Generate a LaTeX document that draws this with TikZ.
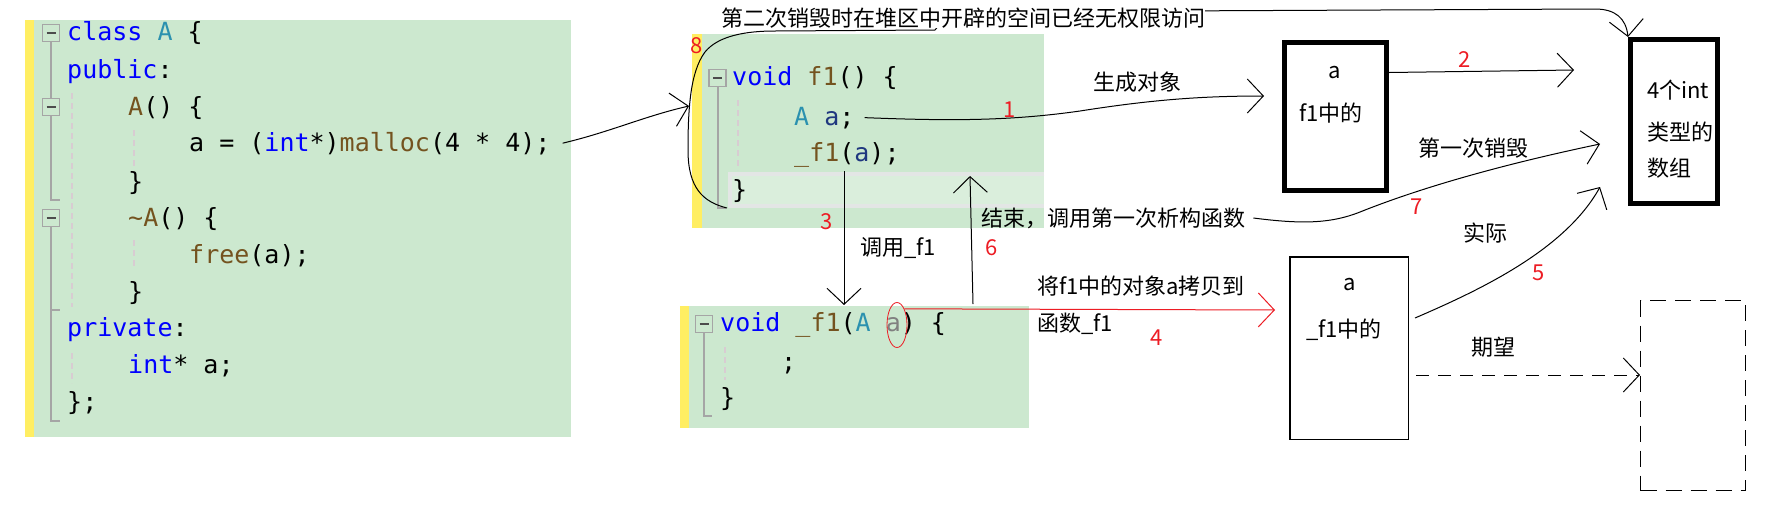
\documentclass[tikz,border=0pt]{standalone}
\usepackage{fontspec}
\usetikzlibrary{arrows.meta, shapes.geometric, positioning}
\newfontfamily\cjkfont{Noto Sans CJK SC}
\newfontfamily\codefont{DejaVu Sans Mono}
\definecolor{codebg}{HTML}{CCE8CF}
\definecolor{hlbg}{HTML}{DAEEDC}
\definecolor{hlborder}{HTML}{E3E6E5}
\definecolor{marginy}{HTML}{FFEE62}
\definecolor{kwblue}{HTML}{0000FF}
\definecolor{tyteal}{HTML}{2B91AF}
\definecolor{fnbrown}{HTML}{74531F}
\definecolor{varblue}{HTML}{1F377F}
\definecolor{pargray}{HTML}{808080}
\definecolor{foldgray}{HTML}{A5A5A5}
\definecolor{guidec}{HTML}{D8CCD2}
\definecolor{numred}{HTML}{ED1C24}
\newcommand{\ckw}[1]{\textcolor{kwblue}{#1}}
\newcommand{\cty}[1]{\textcolor{tyteal}{#1}}
\newcommand{\cfn}[1]{\textcolor{fnbrown}{#1}}
\newcommand{\cvar}[1]{\textcolor{varblue}{#1}}
\newcommand{\cpar}[1]{\textcolor{pargray}{#1}}
\tikzset{
   codeline/.style={
     anchor=base west, inner sep=0pt,
     font=\codefont\fontsize{25}{30}\selectfont
   },
   foldbox/.style={
     draw=foldgray, line width=1.5pt, minimum size=17pt, inner sep=0pt,
     path picture={\draw[black!70, line width=2pt]
       ([xshift=-4.5pt]path picture bounding box.center) --
       ([xshift=4.5pt]path picture bounding box.center);}
   },
   foldline/.style={draw=foldgray, line width=2pt},
   guide/.style={draw=guidec, line width=1.5pt, dash pattern=on 6pt off 4pt},
   cjktext/.style={font=\cjkfont\fontsize{22}{26}\selectfont, inner sep=0pt},
   num/.style={cjktext, text=numred},
   thickbox/.style={draw, line width=5pt, inner sep=0pt},
   thinbox/.style={draw, line width=1.5pt, inner sep=0pt},
   hand/.style={line width=1pt, -{Straight Barb[length=16pt,width=34pt]}},
   handdash/.style={hand, dash pattern=on 13pt off 9pt}
}
\begin{document}
\begin{tikzpicture}[x=1pt, y=-1pt]
            \path[fill=white, use as bounding box] (0,0) rectangle (1770,520);
            % code panels
            \fill[codebg] (25,20) rectangle (571,437);
            \fill[marginy] (25,20) rectangle (34,437);
            \fill[codebg] (692,34) rectangle (1044,228);
            \fill[marginy] (692,34) rectangle (702,228);
            \draw[hlborder, line width=3.5pt, fill=hlbg] (1044,174) -- (730,174) -- (730,206) -- (1044,206);
            \fill[codebg] (680,306) rectangle (1029,428);
            \fill[marginy] (680,306) rectangle (689,428);

            \node[foldbox] (lf1) at (51,33) {};
            \node[foldbox] (lf2) at (51,107) {};
            \node[foldbox] (lf3) at (51,218) {};
            \draw[foldline] (lf1.south) -- (lf2.north);
            \draw[foldline] (lf2.south) -- (51,200) -- (60,200);
            \draw[foldline] (lf3.south) -- (51,421) -- (60,421);
            \draw[foldline] (51,310) -- (60,310);
            \draw[guide] (72,93) -- (72,307);
            \draw[guide] (72,353) -- (72,383);
            \draw[guide] (134,130) -- (134,167);
            \draw[guide] (134,240) -- (134,267);

            \node[codeline] (l1) at (67,40) {\ckw{class} \cty{A} \{};
            \node[codeline] (l2) at (67,78) {\ckw{public}:};
            \node[codeline] (l3) at (128,115) {\cfn{A}() \{};
            \node[codeline] (l4) at (189,151) {a = (\ckw{int}*)\cfn{malloc}(4 * 4);};
            \node[codeline] (l5) at (128,190) {\}};
            \node[codeline] (l6) at (128,226) {\cfn{\textasciitilde A}() \{};
            \node[codeline] (l7) at (189,263) {\cfn{free}(a);};
            \node[codeline] (l8) at (128,300) {\}};
            \node[codeline] (l9) at (67,336) {\ckw{private}:};
            \node[codeline] (l10) at (128,373) {\ckw{int}* a;};
            \node[codeline] (l11) at (67,410) {\};};

            \node[foldbox] (tf1) at (717.5,78) {};
            \draw[foldline] (tf1.south) -- ++(0,121) -- ++(8,0);
            \draw[guide] (738,100) -- (738,170);
            \node[codeline] (t1) at (732,85) {\ckw{void} \cfn{f1}() \{};
            \node[codeline] (t2) at (794,125) {\cty{A} \cvar{a};};
            \node[codeline] (t3) at (794,161) {\cfn{\_f1}(\cvar{a});};
            \node[codeline] (t4) at (732,198) {\}};

            \node[foldbox] (bf1) at (704,324) {};
            \draw[foldline] (bf1.south) -- ++(0,83) -- ++(8,0);
            \draw[guide] (725,347) -- (725,380);
            \node[codeline] (b1) at (720,331) {\ckw{void} \cfn{\_f1}(\cty{A} \cpar{a}) \{};
            \node[codeline] (b2) at (781,370) {;};
            \node[codeline] (b3) at (720,406) {\}};
            \node[draw=numred, ellipse, line width=0.8pt, minimum width=20pt, minimum height=45pt, inner sep=0pt] (pell) at (897,325) {};

            % memory boxes
            \node[thickbox, minimum width=102pt, minimum height=148pt] (boxfa) at (1335.5,116.5) {};
            \node[thickbox, minimum width=87pt, minimum height=164pt] (arrbox) at (1674,121.5) {};
            \node[thinbox, minimum width=118.5pt, minimum height=182.5pt] (boxpf) at (1349,348) {};
            \node[thinbox, line width=1pt, dash pattern=on 16pt off 9pt, minimum width=105pt, minimum height=190pt] (dashbox) at (1693,395.5) {};
            \node[cjktext] (fa1) at (1335,73) {a};
            \node[cjktext] (fa2) at (1331,113) {f1中的};
            \node[cjktext, anchor=west] (ar1) at (1647,90) {4个int};
            \node[cjktext, anchor=west] (ar2) at (1647,132) {类型的};
            \node[cjktext, anchor=west] (ar3) at (1647,168) {数组};
            \node[cjktext] (pf1) at (1350,285) {a};
            \node[cjktext, anchor=west] (pf2) at (1306,330) {\_f1中的};

            % arrows
            \coordinate (brk) at (689,106);
            \coordinate (brkbot) at (727,208);
            \coordinate (a1e) at (1264,96);
            \coordinate (a2e) at (1574,70);
            \coordinate (a3s) at (844,171);
            \coordinate (a3e) at (844,305);
            \coordinate (a6s) at (973,304);
            \coordinate (a6e) at (970,176);
            \coordinate (a4e) at (1275,310);
            \coordinate (a7e) at (1600,144);
            \coordinate (a5e) at (1600,187);
            \coordinate (dsstart) at ([shift={(7pt,-27pt)}]boxpf.east);

            \draw[hand] ([xshift=12pt]l4.east) .. controls (610,132) and (645,116) .. (brk);
            \draw[hand] (brkbot) .. controls (703,202) and (688,188) .. (688,150)
               .. controls (688,110) and (690,72) .. (705,52)
               .. controls (718,36) and (745,31) .. (775,31) -- (935,30) -- (950,12) -- (1595,9)
               .. controls (1615,9) and (1626,18) .. (arrbox.north west);
            \draw[hand] ([xshift=10pt]t2.east) .. controls (950,121) and (1010,121) .. (1080,111)
               .. controls (1150,100) and (1200,96) .. (a1e);
            \draw[hand] ([yshift=44pt]boxfa.east) -- (a2e);
            \draw[hand] (a3s) -- (a3e);
            \draw[hand] (a6s) -- (a6e);
            \draw[hand, draw=numred] (pell.north east) -- (a4e);
            \draw[hand] ([shift={(6pt,30pt)}]boxpf.east) .. controls (1480,290) and (1565,250) .. (a5e);
            \draw[handdash] (dsstart) -- (dsstart -| dashbox.west);

            % labels
            \node[cjktext, anchor=west, fill=white] (msg8) at (721,18) {第二次销毁时在堆区中开辟的空间已经无权限访问};
            \node[num] (n8) at (697,46) {8};
            \node[cjktext] (msg1) at (1137,82) {生成对象};
            \node[num] (n1) at (1010,110) {1};
            \node[num] (n2) at (1465,60) {2};
            \node[num] (n3) at (827,222) {3};
            \node[cjktext] (msg3) at (898,248) {调用\_f1};
            \node[num] (n6) at (992,248) {6};
            \node[cjktext, anchor=west] (msg7) at (981,218) {结束，调用第一次析构函数};
            \draw[hand] ([xshift=8pt]msg7.east) .. controls (1300,224) and (1330,224) .. (1360,212)
               .. controls (1420,188) and (1500,165) .. (a7e);
            \node[num] (n7) at (1417,207) {7};
            \node[cjktext] (msg7b) at (1473,148) {第一次销毁};
            \node[cjktext, anchor=west] (msg4a) at (1037,286) {将f1中的对象a拷贝到};
            \node[cjktext, anchor=west] (msg4b) at (1037,324) {函数\_f1};
            \node[num] (n4) at (1157,338) {4};
            \node[cjktext] (msg5) at (1485,233) {实际};
            \node[num] (n5) at (1539,273) {5};
            \node[cjktext] (msg5b) at (1493,347) {期望};
         \end{tikzpicture}
\end{document}
